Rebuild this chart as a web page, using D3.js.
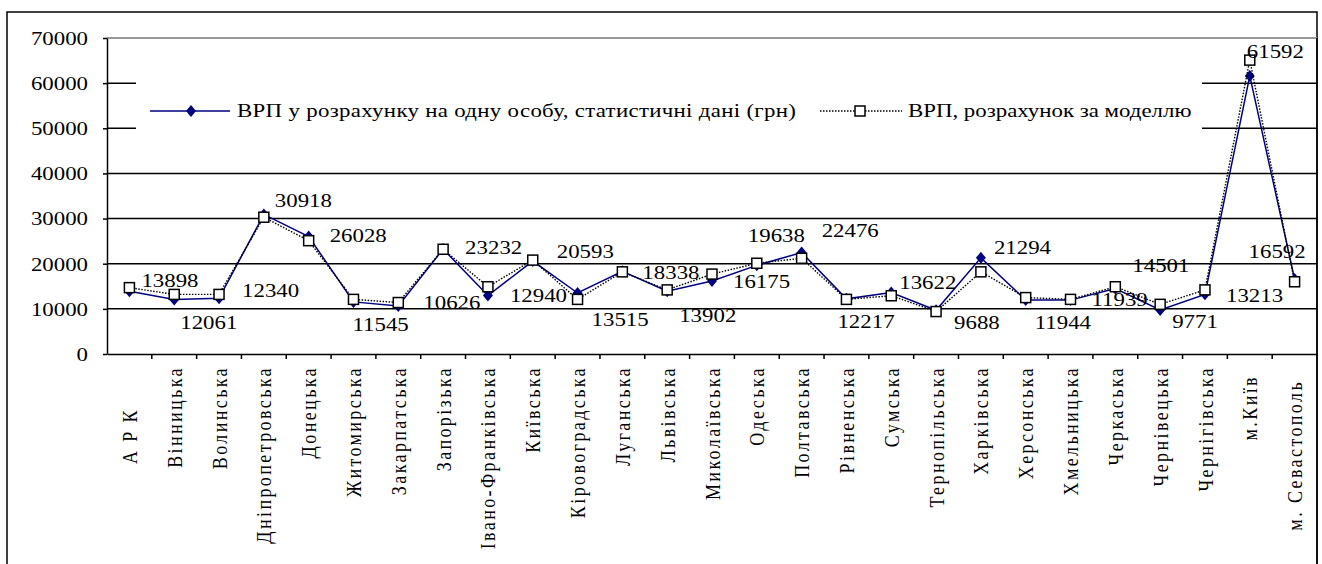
<!DOCTYPE html>
<html>
<head>
<meta charset="utf-8">
<script src="https://cdn.jsdelivr.net/npm/d3@7"></script>
<style>
  body { margin: 0; background: #fff; }
</style>
</head>
<body>
<div id="chart"></div>
<script>
// regions
const categories = ["А Р К", "Вінницька", "Волинська", "Дніпропетровська", "Донецька",
  "Житомирська", "Закарпатська", "Запорізька", "Івано-Франківська", "Київська",
  "Кіровоградська", "Луганська", "Львівська", "Миколаївська", "Одеська", "Полтавська",
  "Рівненська", "Сумська", "Тернопільська", "Харківська", "Херсонська", "Хмельницька",
  "Черкаська", "Чернівецька", "Чернігівська", "м.Київ", "м. Севастополь"];

// statistical data (labels on the chart)
const statValues = [13898, 12061, 12340, 30918, 26028, 11545, 10626, 23232, 12940, 20593,
  13515, 18338, 13902, 16175, 19638, 22476, 12217, 13622, 9688, 21294,
  11944, 11939, 14501, 9771, 13213, 61592, 16592];

// model estimate (read off the squares)
const modelValues = [14700, 13200, 13200, 30300, 25100, 12100, 11400, 23200, 14900, 20800,
  12100, 18200, 14200, 17700, 20100, 21200, 12100, 12900, 9400, 18200,
  12500, 12100, 14900, 11000, 14200, 65100, 16000];

const yTicks = [0, 10000, 20000, 30000, 40000, 50000, 60000, 70000];

const legendNames = ["ВРП у розрахунку на одну особу, статистичні дані (грн)",
  "ВРП, розрахунок за моделлю"];

// hand placed data labels (offset from the point, px)
const labelDx = [12, 6, 23, 11, 21, -1, 25, 22, 22, 24, 14, 20, 12, 21, -9, 20, -9, 8, 18, 13, 9, 21, 17, 12, 21, -3, -46];
const labelDy = [-11, 23, -8, -14, -1, 23, -3, -1, 0, -9, 27, 1, 24, 1, -30, -22, 23, -10, 12, -10, 23, 0, -23, 12, 1, -24, -27];
// some category labels sit lower than the others
const catShift = {"А Р К": 42, "м.Київ": 9, "м. Севастополь": 14};

var width = 1322, height = 564;
var mLeft = 107, mRight = 1317, mTop = 38, mBottom = 354;
var sx = 1.27; // the picture is stretched sideways
var font = "'Liberation Serif', 'Times New Roman', serif";

var svg = d3.select("#chart").append("svg")
  .attr("width", width)
  .attr("height", height);

var x = d3.scaleBand()
  .domain(categories)
  .range([mLeft, mRight]);

var y = d3.scaleLinear()
  .domain([0, 70000])
  .range([mBottom, mTop]);

// outer frame
svg.append("rect")
  .attr("x", 7).attr("y", 12)
  .attr("width", mRight - 7).attr("height", 600)
  .attr("fill", "none").attr("stroke", "#000").attr("stroke-width", 1.5);

// grid
svg.append("g").selectAll("line")
  .data(yTicks.filter(d => d > 0))
  .enter().append("line")
  .attr("x1", mLeft).attr("x2", mRight)
  .attr("y1", d => y(d)).attr("y2", d => y(d))
  .attr("stroke", d => d == 70000 ? "#999" : "#000")
  .attr("stroke-width", d => d == 70000 ? 2 : 1.5);

// legend box hides the grid behind it
svg.append("rect")
  .attr("x", 136).attr("y", 58)
  .attr("width", 1066).attr("height", 100)
  .attr("fill", "#fff");

// right edge of plot
svg.append("line")
  .attr("x1", mRight).attr("x2", mRight)
  .attr("y1", mTop).attr("y2", 600)
  .attr("stroke", "#000").attr("stroke-width", 1.5);

// y axis
var yAxis = svg.append("g")
  .attr("transform", "translate(" + mLeft + ",0)")
  .call(d3.axisLeft(y).tickValues(yTicks).tickSize(4).tickSizeOuter(0).tickFormat(d3.format("d")));
yAxis.select(".domain").attr("stroke-width", 1.5);
yAxis.selectAll(".tick line").attr("stroke-width", 1.5);
yAxis.selectAll("text")
  .attr("x", 0).attr("dy", "0.35em")
  .attr("text-anchor", "end")
  .style("font-family", font).style("font-size", "18px").attr("fill", "#000")
  .attr("transform", "translate(-19,0) scale(" + sx + ",1)");

// x axis
var xAxis = svg.append("g")
  .attr("transform", "translate(0," + mBottom + ")")
  .call(d3.axisBottom(x).tickSize(0).tickSizeOuter(0));
xAxis.select(".domain").attr("stroke-width", 1.5);
xAxis.selectAll("text")
  .attr("x", 0).attr("y", 0).attr("dy", "0.35em")
  .style("font-family", font).style("font-size", "18px").attr("fill", "#000")
  .attr("letter-spacing", 2.4)
  .attr("text-anchor", "end")
  .attr("transform", d => "translate(0," + (12 + (catShift[d] || 0)) + ") scale(1.2,1) rotate(-90)");

// ticks between categories
svg.append("g").selectAll("line")
  .data(categories.slice(1))
  .enter().append("line")
  .attr("x1", d => x(d)).attr("x2", d => x(d))
  .attr("y1", mBottom).attr("y2", mBottom + 5)
  .attr("stroke", "#000").attr("stroke-width", 1.5);

var cx = d => x(d) + x.bandwidth() / 2;
var diamond = "M0,-6L5,0L0,6L-5,0Z";

// statistical series
var line = d3.line()
  .x((d, i) => cx(categories[i]))
  .y(d => y(d));

svg.append("path")
  .datum(statValues)
  .attr("d", line)
  .attr("fill", "none")
  .attr("stroke", "#000080")
  .attr("stroke-width", 1.5);

svg.append("g").selectAll("path")
  .data(statValues)
  .enter().append("path")
  .attr("d", diamond)
  .attr("transform", (d, i) => "translate(" + cx(categories[i]) + "," + y(d) + ")")
  .attr("fill", "#000080");

// model series
svg.append("path")
  .datum(modelValues)
  .attr("d", line)
  .attr("fill", "none")
  .attr("stroke", "#000")
  .attr("stroke-width", 1.4)
  .attr("stroke-dasharray", "1.5,1.5");

svg.append("g").selectAll("rect")
  .data(modelValues)
  .enter().append("rect")
  .attr("x", (d, i) => cx(categories[i]) - 5)
  .attr("y", d => y(d) - 5)
  .attr("width", 10).attr("height", 10)
  .attr("fill", "#fff")
  .attr("stroke", "#000")
  .attr("stroke-width", 1.5);

// data labels
svg.append("g").selectAll("text")
  .data(statValues)
  .enter().append("text")
  .attr("dy", "0.35em")
  .style("font-family", font).style("font-size", "18px")
  .attr("transform", (d, i) => "translate(" + (cx(categories[i]) + labelDx[i]) + "," + (y(d) + labelDy[i]) + ") scale(" + sx + ",1)")
  .text(d => d);

// legend
var lg = svg.append("g");
lg.append("line")
  .attr("x1", 150).attr("x2", 230).attr("y1", 111).attr("y2", 111)
  .attr("stroke", "#000080").attr("stroke-width", 1.5);
lg.append("path")
  .attr("d", diamond)
  .attr("transform", "translate(191,111)")
  .attr("fill", "#000080");
lg.append("text")
  .style("font-family", font).style("font-size", "18px").attr("dy", "0.35em")
  .attr("letter-spacing", 0.25)
  .attr("transform", "translate(237,111) scale(" + sx + ",1)")
  .text(legendNames[0]);

lg.append("line")
  .attr("x1", 820).attr("x2", 902).attr("y1", 111).attr("y2", 111)
  .attr("stroke", "#000").attr("stroke-width", 1.4)
  .attr("stroke-dasharray", "1.5,1.5");
lg.append("rect")
  .attr("x", 855).attr("y", 106).attr("width", 10).attr("height", 10)
  .attr("fill", "#fff").attr("stroke", "#000").attr("stroke-width", 1.5);
lg.append("text")
  .style("font-family", font).style("font-size", "18px").attr("dy", "0.35em")
  .attr("transform", "translate(908,111) scale(" + sx + ",1)")
  .text(legendNames[1]);
</script>
</body>
</html>
